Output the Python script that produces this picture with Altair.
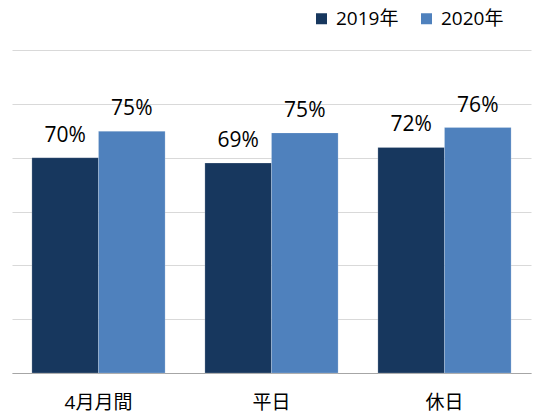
import altair as alt
import pandas as pd

categories = ["4月月間", "平日", "休日"]
years = ["2019年", "2020年"]
values_2019 = [0.700, 0.690, 0.719]
values_2020 = [0.749, 0.746, 0.756]
colors = ["#17375E", "#4F81BD"]

rows = []
for i, c in enumerate(categories):
    rows.append({"cat": c, "year": years[0], "v": values_2019[i]})
    rows.append({"cat": c, "year": years[1], "v": values_2020[i]})
df = pd.DataFrame(rows)

FONT = "Open Sans, Noto Sans CJK JP, sans-serif"

x = alt.X("cat:N", sort=categories, title=None,
          scale=alt.Scale(paddingInner=0.23, paddingOuter=0.115),
          axis=alt.Axis(labelAngle=0, ticks=False, grid=False, domainColor="#a6a6a6", domainWidth=1,
                        labelFontSize=19, labelColor="#000000", labelPadding=20, labelFont=FONT))
xo = alt.XOffset("year:N", sort=years, scale=alt.Scale(paddingInner=0, paddingOuter=0))
y = alt.Y("v:Q", title=None,
          scale=alt.Scale(domain=[0.3, 0.9], zero=False, nice=False),
          axis=alt.Axis(labels=False, ticks=False, domain=False, grid=True,
                        values=[0.3, 0.4, 0.5, 0.6, 0.7, 0.8, 0.9],
                        gridColor="#d9d9d9", gridWidth=1))

bars = alt.Chart(df).mark_bar(stroke="#ffffff", strokeWidth=0.5, strokeOpacity=0.4).encode(
    x=x, xOffset=xo, y=y, y2=alt.datum(0.3),
    color=alt.Color("year:N", sort=years, scale=alt.Scale(domain=years, range=colors),
                    legend=alt.Legend(title=None, orient="none", direction="horizontal",
                                      legendX=300, legendY=-41, padding=0,
                                      symbolType="square", symbolSize=121, symbolStrokeWidth=0,
                                      labelFontSize=19, labelFont=FONT, labelColor="#000000",
                                      labelOffset=5, columnPadding=18))
)

labels = alt.Chart(df).mark_text(dy=-16, baseline="alphabetic", fontSize=21, font=FONT, color="#000000").encode(
    x=x, xOffset=xo, y=y, text=alt.Text("v:Q", format=".0%")
)

chart = (bars + labels).properties(
    width=519, height=323,
    autosize=alt.AutoSizeParams(type="none"),
    padding={"left": 12, "top": 50, "right": 9, "bottom": 41},
).configure_view(stroke=None)

chart.save("out.html", embed_options={"renderer": "svg", "actions": False})
